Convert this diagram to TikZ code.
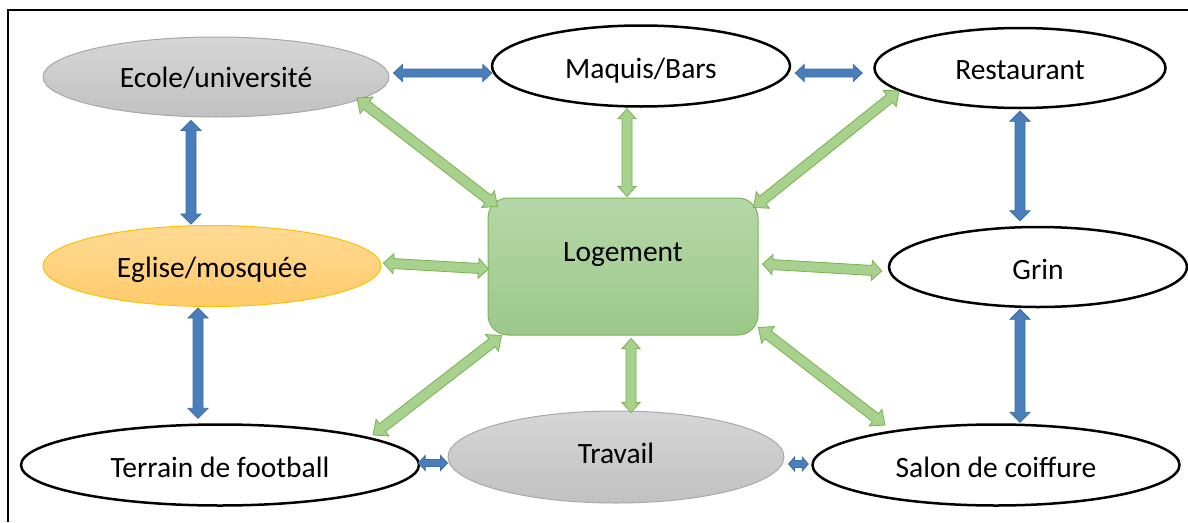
\documentclass[tikz,border=0pt]{standalone}
\usepackage{fontspec}
\setmainfont{Carlito}
\usetikzlibrary{shapes.geometric,calc}
\definecolor{bluefill}{HTML}{4A7EBB}
\definecolor{blueline}{HTML}{3D6FA3}
\definecolor{greenfill}{HTML}{A9D18E}
\definecolor{greenline}{HTML}{78B151}
\definecolor{graytop}{HTML}{D6D6D6}
\definecolor{graybot}{HTML}{C1C1C1}
\definecolor{grayline}{HTML}{A8A8A8}
\definecolor{orangetop}{HTML}{FFDA94}
\definecolor{orangebot}{HTML}{FFCB6B}
\definecolor{orangeline}{HTML}{FFC000}
\definecolor{logtop}{HTML}{B6D7A8}
\definecolor{logbot}{HTML}{9CC88A}
\definecolor{logline}{HTML}{7DB356}
% #1 style, #2 from, #3 to, #4 half shaft, #5 half head, #6 head length
\newcommand\dblarrow[6]{%
  \path (#2) coordinate (da-s) (#3) coordinate (da-t);
  \path ($(da-s)!#6pt!(da-t)$) coordinate (da-a) ($(da-t)!#6pt!(da-s)$) coordinate (da-b);
  \path[#1] (da-s) -- ($(da-a)!#5pt!90:(da-t)$) -- ($(da-a)!#4pt!90:(da-t)$)
    -- ($(da-b)!#4pt!-90:(da-s)$) -- ($(da-b)!#5pt!-90:(da-s)$) -- (da-t)
    -- ($(da-b)!#5pt!90:(da-s)$) -- ($(da-b)!#4pt!90:(da-s)$)
    -- ($(da-a)!#4pt!-90:(da-t)$) -- ($(da-a)!#5pt!-90:(da-t)$) -- cycle;
}
\begin{document}
\begin{tikzpicture}[x=1pt,y=-1pt,
  font=\fontsize{29.5}{35}\selectfont,
  place/.style={ellipse, inner sep=0pt, text=black, text height=22pt, text depth=0pt},
  whiteplace/.style={place, draw=black, line width=2.5pt, fill=white},
  grayplace/.style={place, draw=grayline, line width=1pt, top color=graytop, bottom color=graybot},
  orangeplace/.style={place, draw=orangeline, line width=1pt, top color=orangetop, bottom color=orangebot},
  homebox/.style={rectangle, rounded corners=20pt, draw=logline, line width=1pt, top color=logtop, bottom color=logbot, inner sep=0pt, text height=20pt, text depth=30pt},
  bluearrow/.style={fill=bluefill, draw=blueline, line width=0.8pt, line join=miter},
  greenarrow/.style={fill=greenfill, draw=greenline, line width=0.8pt, line join=miter}]
\useasboundingbox (0,0) rectangle (1188,522);
\draw[line width=2pt] (8,522) -- (8,10) -- (1188,10);

\node[grayplace, minimum width=346pt, minimum height=80pt, text height=20pt] (ecole) at (216,77) {Ecole/université};
\node[whiteplace, minimum width=298pt, minimum height=81pt, text height=24pt] (maquis) at (641,66) {Maquis/Bars};
\node[whiteplace, minimum width=291pt, minimum height=80pt] (restaurant) at (1020,68) {Restaurant};
\node[orangeplace, minimum width=338pt, minimum height=81pt] (eglise) at (212,266) {Eglise/mosquée};
\node[homebox, minimum width=270pt, minimum height=137pt] (logement) at (623,266.5) {Logement};
\node[whiteplace, minimum width=298pt, minimum height=80pt, text height=24pt] (grin) at (1038,267) {Grin};
\node[whiteplace, minimum width=398pt, minimum height=81pt, text height=24pt] (terrain) at (220,465) {Terrain de football};
\node[grayplace, minimum width=336pt, minimum height=92pt, text height=12pt] (travail) at (616,457) {Travail};
\node[whiteplace, minimum width=367pt, minimum height=81pt, text height=24pt] (salon) at (996,465) {Salon de coiffure};

% blue arrows
\dblarrow{bluearrow}{$(ecole.east)+(4,-4)$}{$(maquis.west)+(1,7)$}{4}{8.5}{9}
\dblarrow{bluearrow}{$(maquis.east)+(4,7)$}{$(restaurant.west)+(-11,5)$}{4}{8.5}{9}
\dblarrow{bluearrow}{$(restaurant.south)+(0,2)$}{$(grin.north)+(-18,-5)$}{5}{10}{10}
\dblarrow{bluearrow}{$(grin.south)+(-18,1)$}{$(salon.north)+(24,-1)$}{5}{10}{10}
\dblarrow{bluearrow}{$(ecole.south)+(-25,3)$}{$(eglise.north)+(-21,-1)$}{5}{10}{10}
\dblarrow{bluearrow}{$(eglise.south)+(-14,1)$}{$(terrain.north)+(-22,-5)$}{5}{10}{10}
\dblarrow{bluearrow}{$(terrain.east)+(-2,-2)$}{$(travail.west)+(0,6)$}{3.5}{7.5}{7}
\dblarrow{bluearrow}{$(travail.east)+(4,7)$}{$(salon.west)+(-3,-1)$}{3.5}{7}{6}

% green arrows
\dblarrow{greenarrow}{$(ecole.center)+(141,21)$}{$(logement.north west)+(10,9)$}{5}{10.5}{12}
\dblarrow{greenarrow}{$(maquis.south)+(-14,1)$}{$(logement.north)+(4,-1)$}{5}{9}{10}
\dblarrow{greenarrow}{$(restaurant.center)+(-121,23)$}{$(logement.north east)+(-5,10)$}{5}{10.5}{12}
\dblarrow{greenarrow}{$(eglise.east)+(2,-3)$}{$(logement.west)+(1,2.5)$}{5}{10}{10}
\dblarrow{greenarrow}{$(logement.east)+(4,-2.5)$}{$(grin.west)+(-6,4)$}{5}{10}{10}
\dblarrow{greenarrow}{$(logement.south west)+(14,0)$}{$(terrain.center)+(153,-30)$}{5}{10.5}{12}
\dblarrow{greenarrow}{$(logement.south)+(8,3)$}{$(travail.north)+(15,2)$}{5}{9}{10}
\dblarrow{greenarrow}{$(logement.south east)+(0,-8)$}{$(salon.center)+(-111,-40)$}{5}{10.5}{12}
\end{tikzpicture}
\end{document}
